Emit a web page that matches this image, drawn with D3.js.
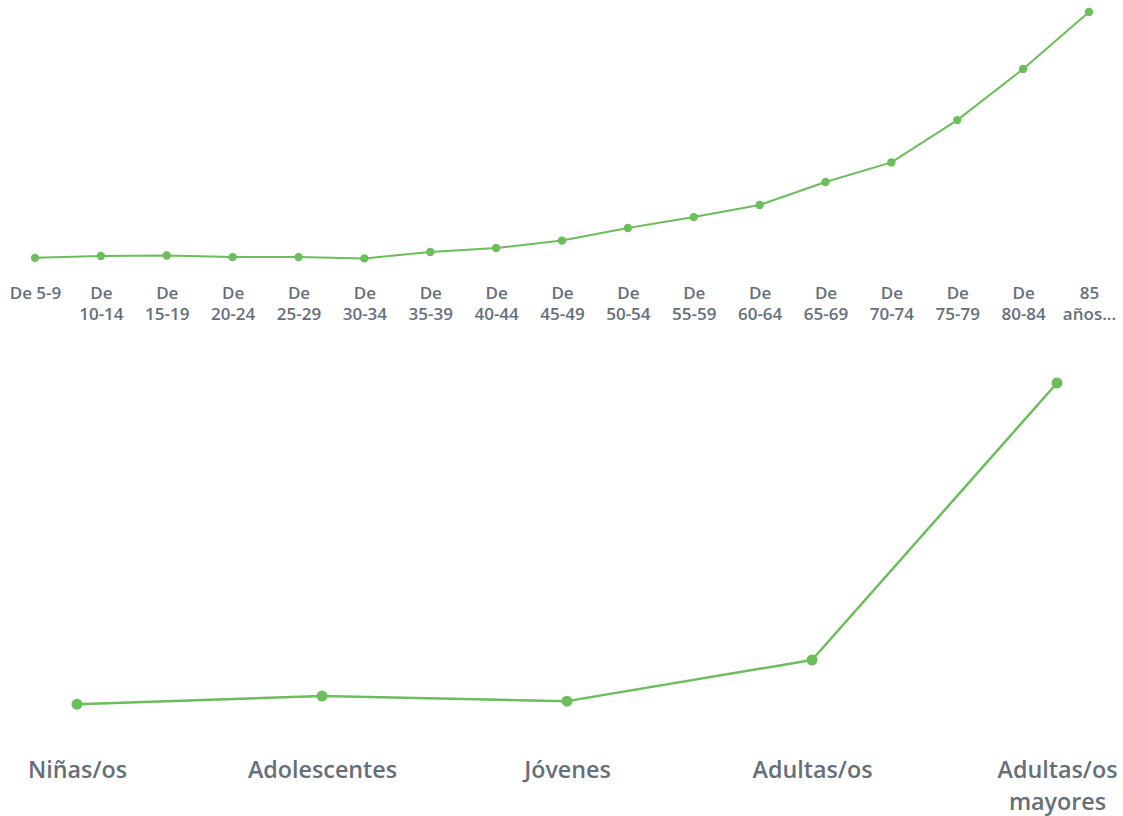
<!DOCTYPE html>
<html><head><meta charset="utf-8">
<script src="https://cdn.jsdelivr.net/npm/d3@7"></script>
<style>
html,body{margin:0;padding:0;background:#fff;}
svg{display:block;}
.tick text{font-family:"Open Sans","Noto Sans",sans-serif;font-weight:600;fill:#656f7a;}
</style></head>
<body><svg id="c" width="1123" height="816"></svg>
<script>
// Top chart: age groups
const ageCategories = ["De 5-9","De 10-14","De 15-19","De 20-24","De 25-29","De 30-34","De 35-39","De 40-44","De 45-49","De 50-54","De 55-59","De 60-64","De 65-69","De 70-74","De 75-79","De 80-84","85 años..."];
const ageLabelLines = [["De 5-9"],["De","10-14"],["De","15-19"],["De","20-24"],["De","25-29"],["De","30-34"],["De","35-39"],["De","40-44"],["De","45-49"],["De","50-54"],["De","55-59"],["De","60-64"],["De","65-69"],["De","70-74"],["De","75-79"],["De","80-84"],["85","años..."]];
const ageValues = [4.7, 5.4, 5.6, 5.0, 5.0, 4.5, 7.0, 8.5, 11.4, 16.3, 20.5, 25.2, 34.1, 41.7, 58.1, 77.9, 100];

// Bottom chart: life stages
const stageCategories = ["Niñas/os","Adolescentes","Jóvenes","Adultas/os","Adultas/os mayores"];
const stageLabelLines = [["Niñas/os"],["Adolescentes"],["Jóvenes"],["Adultas/os"],["Adultas/os","mayores"]];
const stageValues = [4.7, 7.1, 5.6, 17.8, 100];

const green = "#6cbd5b";
const svg = d3.select("#c");

function drawChart(cfg){
  const x = d3.scalePoint().domain(cfg.cats).range(cfg.xRange).padding(0);
  const y = d3.scaleLinear().domain([0,100]).range(cfg.yRange);
  const g = svg.append("g");
  const line = d3.line().x((d,i)=>x(cfg.cats[i])).y(d=>y(d));
  g.append("path").datum(cfg.vals).attr("fill","none").attr("stroke",green)
    .attr("stroke-width",cfg.lw).attr("stroke-linejoin","round").attr("d",line);
  g.selectAll("circle").data(cfg.vals).join("circle")
    .attr("cx",(d,i)=>x(cfg.cats[i])).attr("cy",d=>y(d)).attr("r",cfg.r).attr("fill",green);
  const axis = d3.axisBottom(x).tickSize(0).tickPadding(0);
  const ax = g.append("g").attr("transform",`translate(0,${cfg.axisY})`).call(axis);
  ax.select(".domain").remove();
  ax.selectAll(".tick text").each(function(d,i){
    const t = d3.select(this).text(null).attr("font-size",cfg.fs).attr("dy",null).attr("y",0);
    cfg.lines[i].forEach((s,j)=>{
      t.append("tspan").attr("x",0).attr("y",j*cfg.lh).text(s);
    });
  });
}

drawChart({cats:ageCategories, vals:ageValues, lines:ageLabelLines,
  xRange:[35,1089], yRange:[270,12], lw:2, r:4.2, axisY:299, fs:17, lh:21});
drawChart({cats:stageCategories, vals:stageValues, lines:stageLabelLines,
  xRange:[77,1057], yRange:[720,383], lw:2.5, r:5.5, axisY:778, fs:23.3, lh:32});
</script></body></html>
